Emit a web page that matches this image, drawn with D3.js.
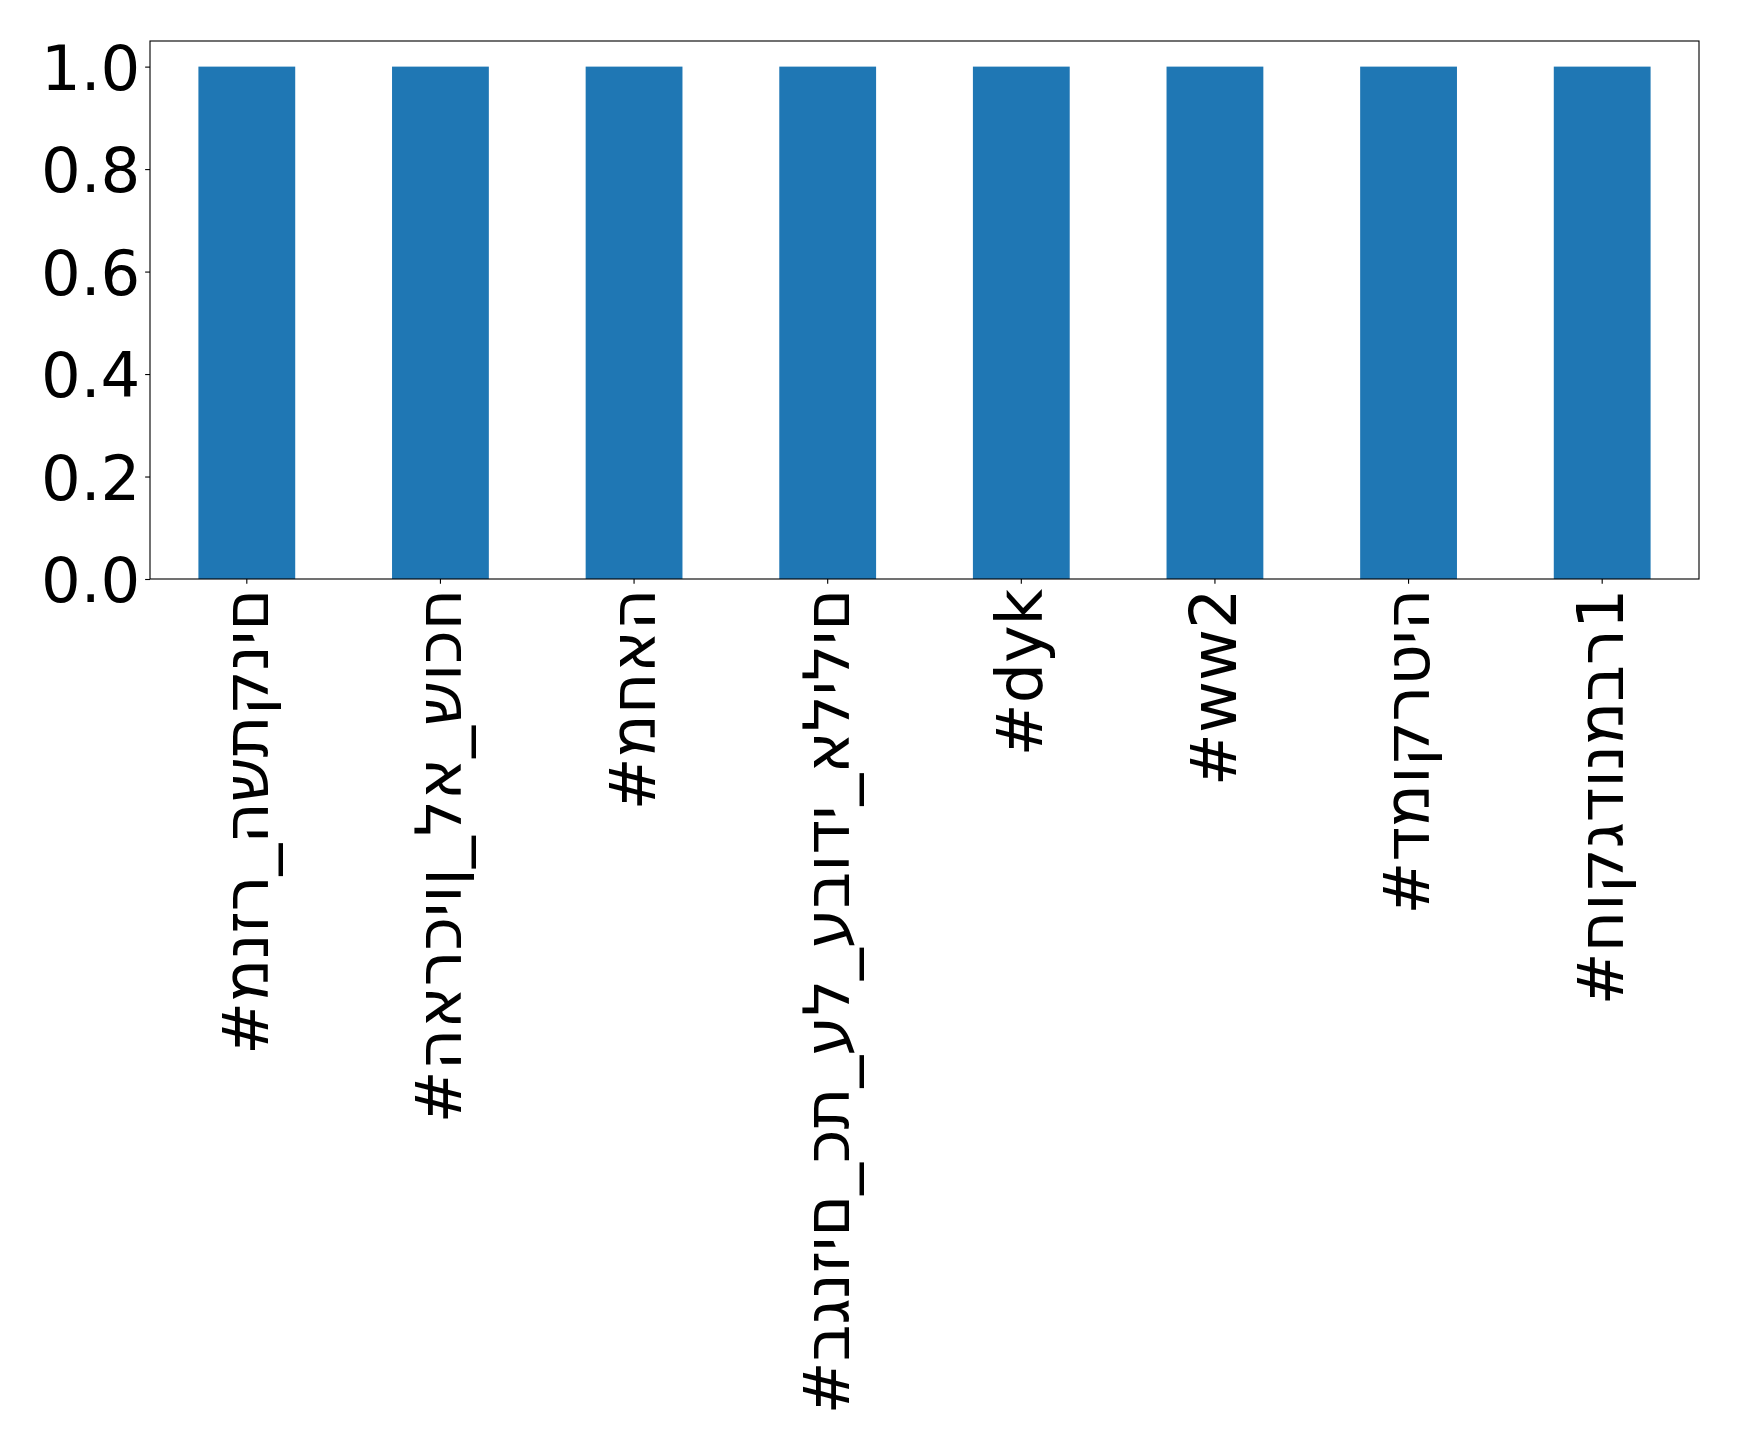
<!DOCTYPE html>
<html>
<head>
<meta charset="utf-8">
<script src="https://cdn.jsdelivr.net/npm/d3@7"></script>
<style>
  html, body { margin: 0; padding: 0; background: #fff; }
  svg { display: block; }
  text { font-family: "DejaVu Sans", sans-serif; }
</style>
</head>
<body>
<svg id="chart" width="1739" height="1445"></svg>
<script>
const categories = [
  "#מנזר_השתקנים",
  "#הארכיון_לא_שוכח",
  "#מחאה",
  "#בגנזים_כת_על_עבודי_אלילים",
  "#dyk",
  "#ww2",
  "#דמוקרטיה",
  "#חוקגדונמבר1"
];
const values = [1, 1, 1, 1, 1, 1, 1, 1];
const yTicks = [0, 0.2, 0.4, 0.6, 0.8, 1.0];
const yTickLabels = ["0.0", "0.2", "0.4", "0.6", "0.8", "1.0"];

(function () {
const svg = d3.select("#chart");
const W = 1739, H = 1445;
svg.append("rect").attr("width", W).attr("height", H).attr("fill", "#fff");

const mLeft = 150, mRight = 1699, mTop = 41, mBottom = 579;

const x = d3.scaleBand().domain(categories).range([mLeft, mRight])
  .paddingInner(0.5).paddingOuter(0.25);
const y = d3.scaleLinear().domain([0, 1.05]).range([mBottom, mTop]);

// bars
svg.append("g").selectAll("rect").data(categories).join("rect")
  .attr("x", d => x(d))
  .attr("y", (d, i) => y(values[i]))
  .attr("width", x.bandwidth())
  .attr("height", (d, i) => y(0) - y(values[i]))
  .attr("fill", "#1f77b4");

// y axis
const yAxis = d3.axisLeft(y).tickValues(yTicks)
  .tickFormat((d, i) => yTickLabels[i]).tickSize(4.86).tickPadding(4.86);
const gy = svg.append("g").attr("transform", `translate(${mLeft},0)`).call(yAxis);
gy.select(".domain").remove();
gy.selectAll(".tick line").attr("stroke", "#000").attr("stroke-width", 1.11);
gy.selectAll(".tick text").attr("font-size", 62.5).attr("fill", "#000")
  .attr("font-family", "DejaVu Sans").attr("dy", "0.36em");

// x axis
const xAxis = d3.axisBottom(x).tickSize(4.86).tickPadding(4.86);
const gx = svg.append("g").attr("transform", `translate(0,${mBottom})`).call(xAxis);
gx.select(".domain").remove();
gx.selectAll(".tick line").attr("stroke", "#000").attr("stroke-width", 1.11);
gx.selectAll(".tick text")
  .attr("font-size", 63.5).attr("fill", "#000").attr("font-family", "DejaVu Sans")
  .attr("text-anchor", "end")
  .attr("transform", "rotate(-90)")
  .attr("x", -9.7).attr("y", -2).attr("dy", "0.36em")
  .style("unicode-bidi", "bidi-override").style("direction", "ltr");

// frame
svg.append("rect").attr("x", mLeft).attr("y", mTop)
  .attr("width", mRight - mLeft).attr("height", mBottom - mTop)
  .attr("fill", "none").attr("stroke", "#000").attr("stroke-width", 1.11);
})();
</script>
</body>
</html>
